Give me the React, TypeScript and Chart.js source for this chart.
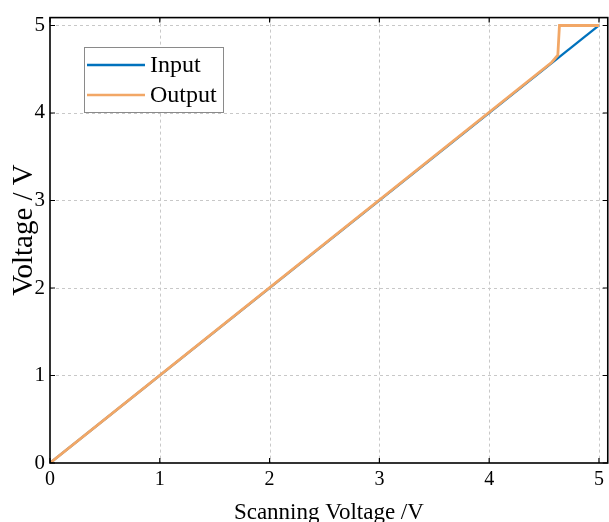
import React, { useEffect, useRef } from "react";
import { Chart, registerables } from "chart.js";

Chart.register(...registerables);

// ---- Data ----
const xTicks = [0, 1, 2, 3, 4, 5];
const yTicks = [0, 1, 2, 3, 4, 5];
const inputX = [0, 5];
const inputY = [0, 5];
const outputX = [0, 4.57, 4.625, 4.64, 5];
const outputY = [0, 4.58, 4.66, 5, 5];
const seriesLabels = ["Input", "Output"];
const seriesColors = ["#0072BD", "#F2A766"];
const xTitle = "Scanning Voltage /V";
const yTitle = "Voltage / V";

const FONT = "'Liberation Serif', 'Times New Roman', serif";

const framePlugin = {
  id: "framePlugin",
  beforeDatasetsDraw(chart: any) {
    const { ctx, chartArea } = chart;
    const xs = chart.scales.x;
    const ys = chart.scales.y;
    ctx.save();
    ctx.strokeStyle = "#c8c8c8";
    ctx.lineWidth = 1;
    ctx.setLineDash([3, 3]);
    xTicks.forEach((v) => {
      if (v === 0) return;
      const px = Math.round(xs.getPixelForValue(v)) + 0.5;
      ctx.beginPath();
      ctx.moveTo(px, chartArea.top);
      ctx.lineTo(px, chartArea.bottom);
      ctx.stroke();
    });
    yTicks.forEach((v) => {
      if (v === 0) return;
      const py = Math.round(ys.getPixelForValue(v)) + 0.5;
      ctx.beginPath();
      ctx.moveTo(chartArea.left, py);
      ctx.lineTo(chartArea.right, py);
      ctx.stroke();
    });
    ctx.restore();
  },
  afterDatasetsDraw(chart: any) {
    const { ctx, chartArea } = chart;
    const xs = chart.scales.x;
    const ys = chart.scales.y;
    const { left, right, top, bottom } = chartArea;
    ctx.save();
    ctx.setLineDash([]);
    ctx.strokeStyle = "#000";
    ctx.lineWidth = 1.6;
    ctx.strokeRect(left, top, right - left, bottom - top);
    ctx.lineWidth = 1.2;
    const tl = 5;
    xTicks.forEach((v) => {
      const px = xs.getPixelForValue(v);
      ctx.beginPath();
      ctx.moveTo(px, bottom);
      ctx.lineTo(px, bottom - tl);
      ctx.moveTo(px, top);
      ctx.lineTo(px, top + tl);
      ctx.stroke();
    });
    yTicks.forEach((v) => {
      const py = ys.getPixelForValue(v);
      ctx.beginPath();
      ctx.moveTo(left, py);
      ctx.lineTo(left + tl, py);
      ctx.moveTo(right, py);
      ctx.lineTo(right - tl, py);
      ctx.stroke();
    });

    // Legend
    const lx = 84, ly = 47, lw = 139, lh = 65;
    ctx.fillStyle = "#fff";
    ctx.fillRect(lx, ly, lw, lh);
    ctx.strokeStyle = "#8a8a8a";
    ctx.lineWidth = 1;
    ctx.strokeRect(lx + 0.5, ly + 0.5, lw, lh);
    const rows = [65, 95];
    seriesLabels.forEach((lab, i) => {
      ctx.strokeStyle = seriesColors[i];
      ctx.lineWidth = 2.5;
      ctx.beginPath();
      ctx.moveTo(87, rows[i]);
      ctx.lineTo(145, rows[i]);
      ctx.stroke();
      ctx.fillStyle = "#000";
      ctx.font = `24px ${FONT}`;
      ctx.textAlign = "left";
      ctx.textBaseline = "middle";
      ctx.fillText(lab, 150, rows[i] + 1);
    });

    // Axis titles
    ctx.fillStyle = "#000";
    ctx.font = `23px ${FONT}`;
    ctx.textAlign = "center";
    ctx.textBaseline = "alphabetic";
    ctx.fillText(xTitle, (left + right) / 2, 519);
    ctx.save();
    ctx.translate(32, 230);
    ctx.rotate(-Math.PI / 2);
    ctx.font = `29px ${FONT}`;
    ctx.fillText(yTitle, 0, 0);
    ctx.restore();
    ctx.restore();
  },
};

export default function App() {
  const ref = useRef<HTMLCanvasElement | null>(null);
  useEffect(() => {
    document.body.style.margin = "0";
    if (!ref.current) return;
    const chart = new Chart(ref.current, {
      type: "line",
      data: {
        datasets: [
          {
            label: seriesLabels[0],
            data: inputX.map((x, i) => ({ x, y: inputY[i] })),
            borderColor: seriesColors[0],
            borderWidth: 2.3,
            pointRadius: 0,
            fill: false,
            order: 2,
          },
          {
            label: seriesLabels[1],
            data: outputX.map((x, i) => ({ x, y: outputY[i] })),
            borderColor: seriesColors[1],
            borderWidth: 2.8,
            pointRadius: 0,
            fill: false,
            order: 1,
          },
        ],
      },
      options: {
        animation: false,
        responsive: true,
        maintainAspectRatio: false,
        layout: { padding: { top: 14, right: 1, left: 0, bottom: 0 } },
        plugins: { legend: { display: false }, tooltip: { enabled: false } },
        scales: {
          x: {
            type: "linear",
            min: 0,
            max: 5.08,
            grid: { display: false, drawTicks: false },
            border: { display: false },
            afterBuildTicks: (s: any) => {
              s.ticks = xTicks.map((v) => ({ value: v }));
            },
            afterFit: (s: any) => {
              s.height = 59;
            },
            ticks: {
              color: "#000",
              padding: 5,
              maxRotation: 0,
              autoSkip: false,
              font: { family: FONT, size: 20 },
            },
          },
          y: {
            type: "linear",
            min: 0,
            max: 5.09,
            grid: { display: false, drawTicks: false },
            border: { display: false },
            afterBuildTicks: (s: any) => {
              s.ticks = yTicks.map((v) => ({ value: v }));
            },
            afterFit: (s: any) => {
              s.width = 50;
            },
            ticks: {
              color: "#000",
              padding: 5,
              autoSkip: false,
              font: { family: FONT, size: 21 },
            },
          },
        },
      },
      plugins: [framePlugin],
    });
    return () => chart.destroy();
  }, []);
  return (
    <div style={{ width: 609, height: 522, position: "relative" }}>
      <canvas ref={ref} style={{ display: "block" }} />
    </div>
  );
}
